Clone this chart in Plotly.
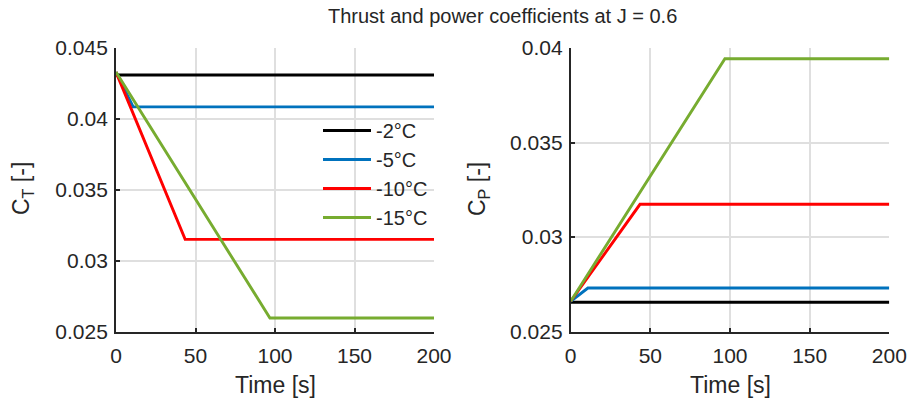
import plotly.graph_objects as go

# ---- data ----
series_names = ["-2°C", "-5°C", "-10°C", "-15°C"]
series_colors = ["#000000", "#0072BD", "#FF0000", "#77AC30"]

time_m2 = [0, 200]
ct_m2 = [0.0431, 0.0431]
cp_m2 = [0.02655, 0.02655]

time_m5 = [0, 10.8, 200]
ct_m5 = [0.0433, 0.04085, 0.04085]
cp_m5 = [0.0266, 0.0273, 0.0273]

time_m10 = [0, 43.5, 200]
ct_m10 = [0.0433, 0.0315, 0.0315]
cp_m10 = [0.0266, 0.03173, 0.03173]

time_m15 = [0, 96.8, 200]
ct_m15 = [0.0433, 0.02595, 0.02595]
cp_m15 = [0.0266, 0.03943, 0.03943]

x_ticks = [0, 50, 100, 150, 200]
ct_ticks = [0.025, 0.03, 0.035, 0.04, 0.045]
cp_ticks = [0.025, 0.03, 0.035, 0.04]

times = [time_m2, time_m5, time_m10, time_m15]
cts = [ct_m2, ct_m5, ct_m10, ct_m15]
cps = [cp_m2, cp_m5, cp_m10, cp_m15]

FONT = "Liberation Sans, Arial, Helvetica, sans-serif"
TXT = "#262626"

fig = go.Figure()
for name, col, t, ct in zip(series_names, series_colors, times, cts):
    fig.add_trace(go.Scatter(x=t, y=ct, mode="lines", name=name,
                             line=dict(color=col, width=2.9),
                             xaxis="x", yaxis="y", showlegend=True))
for name, col, t, cp in zip(series_names, series_colors, times, cps):
    fig.add_trace(go.Scatter(x=t, y=cp, mode="lines", name=name,
                             line=dict(color=col, width=2.9),
                             xaxis="x2", yaxis="y2", showlegend=False))

def fmt(v):
    return ("%.3f" % v).rstrip("0").rstrip(".")

ax_common = dict(showgrid=True, gridcolor="#dfdfdf", gridwidth=1.6,
                 zeroline=False, showline=True, linecolor="#262626", linewidth=1.8,
                 ticks="inside", ticklen=4, tickwidth=1.6, tickcolor="#262626",
                 tickfont=dict(family=FONT, size=21, color=TXT), mirror=False,
                 automargin=False)

yb0 = 73.5 / 405
yb1 = 357 / 405
fig.update_layout(
    template="none",
    width=909, height=405,
    margin=dict(l=0, r=0, t=0, b=0, pad=0, autoexpand=False),
    paper_bgcolor="white", plot_bgcolor="white",
    font=dict(family=FONT, color=TXT),
    xaxis=dict(domain=[116 / 909, 434 / 909], range=[0, 200], tickvals=x_ticks,
               anchor="y", ticklabelstandoff=4, **ax_common),
    yaxis=dict(domain=[yb0, yb1], range=[0.025, 0.045], tickvals=ct_ticks,
               ticktext=[fmt(v) for v in ct_ticks], anchor="x", ticklabelstandoff=2,
               **ax_common),
    xaxis2=dict(domain=[570.7 / 909, 889.3 / 909], range=[0, 200], tickvals=x_ticks,
                anchor="y2", ticklabelstandoff=4, **ax_common),
    yaxis2=dict(domain=[yb0, yb1], range=[0.025, 0.04], tickvals=cp_ticks,
                ticktext=[fmt(v) for v in cp_ticks], anchor="x2", ticklabelstandoff=2,
                **ax_common),
    legend=dict(x=318 / 909, y=1 - 111 / 405, xanchor="left", yanchor="top",
                bgcolor="rgba(255,255,255,0)", borderwidth=0,
                font=dict(family=FONT, size=20, color=TXT),
                itemwidth=48, tracegroupgap=0),
    showlegend=True,
)

ann = [
    dict(text="Thrust and power coefficients at J = 0.6", x=502 / 909, y=1 - 16 / 405,
         font=dict(size=20)),
    dict(text="Time [s]", x=275 / 909, y=1 - 385 / 405, font=dict(size=23)),
    dict(text="Time [s]", x=730 / 909, y=1 - 385 / 405, font=dict(size=23)),
    dict(text="C<sub>T</sub> [-]", x=22 / 909, y=1 - 189 / 405, font=dict(size=23), textangle=-90),
    dict(text="C<sub>P</sub> [-]", x=478 / 909, y=1 - 189 / 405, font=dict(size=23), textangle=-90),
]
for a in ann:
    a.update(xref="paper", yref="paper", showarrow=False, xanchor="center", yanchor="middle")
    a["font"].update(family=FONT, color=TXT)
fig.update_layout(annotations=ann)

fig.write_html("out.html")
